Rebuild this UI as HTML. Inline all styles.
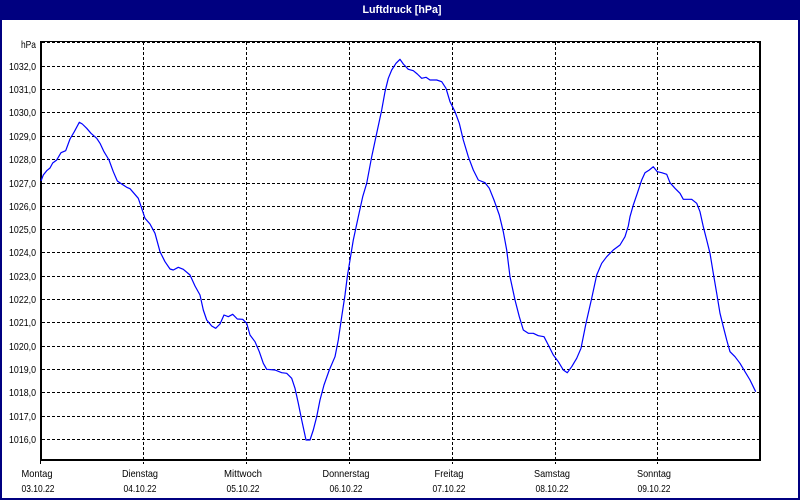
<!DOCTYPE html>
<html>
<head>
<meta charset="utf-8">
<style>
  html,body{margin:0;padding:0;background:#fff;}
  svg{display:block;}
  text{font-family:"Liberation Sans",sans-serif;font-size:10.5px;fill:#000;}
</style>
</head>
<body>
<svg width="800" height="500" viewBox="0 0 800 500" xmlns="http://www.w3.org/2000/svg">
  <!-- background & frame -->
  <rect x="0" y="0" width="800" height="500" fill="#ffffff"/>
  <rect x="0" y="0" width="800" height="20" fill="#000080"/>
  <rect x="0" y="0" width="2" height="500" fill="#000080"/>
  <rect x="798" y="0" width="2" height="500" fill="#000080"/>
  <rect x="0" y="498" width="800" height="2" fill="#000080"/>
  <text x="402" y="13" text-anchor="middle" style="font-weight:bold;fill:#fff;font-size:11px;" textLength="79" lengthAdjust="spacingAndGlyphs">Luftdruck [hPa]</text>

  <!-- horizontal dashed gridlines -->
  <g stroke="#000" stroke-width="1" stroke-dasharray="3,2" shape-rendering="crispEdges">
    <line x1="42" y1="42.5" x2="759" y2="42.5"/>
    <line x1="42" y1="66.5" x2="759" y2="66.5"/>
    <line x1="42" y1="89.5" x2="759" y2="89.5"/>
    <line x1="42" y1="112.5" x2="759" y2="112.5"/>
    <line x1="42" y1="136.5" x2="759" y2="136.5"/>
    <line x1="42" y1="159.5" x2="759" y2="159.5"/>
    <line x1="42" y1="183.5" x2="759" y2="183.5"/>
    <line x1="42" y1="206.5" x2="759" y2="206.5"/>
    <line x1="42" y1="229.5" x2="759" y2="229.5"/>
    <line x1="42" y1="252.5" x2="759" y2="252.5"/>
    <line x1="42" y1="276.5" x2="759" y2="276.5"/>
    <line x1="42" y1="299.5" x2="759" y2="299.5"/>
    <line x1="42" y1="322.5" x2="759" y2="322.5"/>
    <line x1="42" y1="346.5" x2="759" y2="346.5"/>
    <line x1="42" y1="369.5" x2="759" y2="369.5"/>
    <line x1="42" y1="392.5" x2="759" y2="392.5"/>
    <line x1="42" y1="416.5" x2="759" y2="416.5"/>
    <line x1="42" y1="439.5" x2="759" y2="439.5"/>
  </g>
  <!-- vertical dashed gridlines (extend below axis as ticks) -->
  <g stroke="#000" stroke-width="1" stroke-dasharray="3,2" shape-rendering="crispEdges">
    <line x1="143.5" y1="42" x2="143.5" y2="464"/>
    <line x1="246.5" y1="42" x2="246.5" y2="464"/>
    <line x1="349.5" y1="42" x2="349.5" y2="464"/>
    <line x1="452.5" y1="42" x2="452.5" y2="464"/>
    <line x1="555.5" y1="42" x2="555.5" y2="464"/>
    <line x1="657.5" y1="42" x2="657.5" y2="464"/>
  </g>

  <!-- axes -->
  <g stroke="#000" shape-rendering="crispEdges" fill="none">
    <line x1="40" y1="41.5" x2="761" y2="41.5" stroke-width="1"/>
    <line x1="41" y1="41" x2="41" y2="461" stroke-width="2"/>
    <line x1="40" y1="460" x2="761" y2="460" stroke-width="2"/>
    <line x1="760" y1="41" x2="760" y2="461" stroke-width="2"/>
    <line x1="40.5" y1="460" x2="40.5" y2="464" stroke-width="1"/>
  </g>

  <!-- y labels -->
  <g text-anchor="end" lengthAdjust="spacingAndGlyphs">
    <text x="36" y="48" textLength="15" lengthAdjust="spacingAndGlyphs">hPa</text>
    <text x="36" y="70" textLength="27" lengthAdjust="spacingAndGlyphs">1032,0</text>
    <text x="36" y="93" textLength="27" lengthAdjust="spacingAndGlyphs">1031,0</text>
    <text x="36" y="116" textLength="27" lengthAdjust="spacingAndGlyphs">1030,0</text>
    <text x="36" y="140" textLength="27" lengthAdjust="spacingAndGlyphs">1029,0</text>
    <text x="36" y="163" textLength="27" lengthAdjust="spacingAndGlyphs">1028,0</text>
    <text x="36" y="187" textLength="27" lengthAdjust="spacingAndGlyphs">1027,0</text>
    <text x="36" y="210" textLength="27" lengthAdjust="spacingAndGlyphs">1026,0</text>
    <text x="36" y="233" textLength="27" lengthAdjust="spacingAndGlyphs">1025,0</text>
    <text x="36" y="256" textLength="27" lengthAdjust="spacingAndGlyphs">1024,0</text>
    <text x="36" y="280" textLength="27" lengthAdjust="spacingAndGlyphs">1023,0</text>
    <text x="36" y="303" textLength="27" lengthAdjust="spacingAndGlyphs">1022,0</text>
    <text x="36" y="326" textLength="27" lengthAdjust="spacingAndGlyphs">1021,0</text>
    <text x="36" y="350" textLength="27" lengthAdjust="spacingAndGlyphs">1020,0</text>
    <text x="36" y="373" textLength="27" lengthAdjust="spacingAndGlyphs">1019,0</text>
    <text x="36" y="396" textLength="27" lengthAdjust="spacingAndGlyphs">1018,0</text>
    <text x="36" y="420" textLength="27" lengthAdjust="spacingAndGlyphs">1017,0</text>
    <text x="36" y="443" textLength="27" lengthAdjust="spacingAndGlyphs">1016,0</text>
  </g>

  <!-- x labels -->
  <g text-anchor="middle">
    <text x="37" y="477" textLength="31" lengthAdjust="spacingAndGlyphs">Montag</text>
    <text x="38" y="492" textLength="33" lengthAdjust="spacingAndGlyphs">03.10.22</text>
    <text x="140" y="477" textLength="36" lengthAdjust="spacingAndGlyphs">Dienstag</text>
    <text x="140" y="492" textLength="33" lengthAdjust="spacingAndGlyphs">04.10.22</text>
    <text x="243" y="477" textLength="38" lengthAdjust="spacingAndGlyphs">Mittwoch</text>
    <text x="243" y="492" textLength="33" lengthAdjust="spacingAndGlyphs">05.10.22</text>
    <text x="346" y="477" textLength="47" lengthAdjust="spacingAndGlyphs">Donnerstag</text>
    <text x="346" y="492" textLength="33" lengthAdjust="spacingAndGlyphs">06.10.22</text>
    <text x="449" y="477" textLength="29" lengthAdjust="spacingAndGlyphs">Freitag</text>
    <text x="449" y="492" textLength="33" lengthAdjust="spacingAndGlyphs">07.10.22</text>
    <text x="552" y="477" textLength="36" lengthAdjust="spacingAndGlyphs">Samstag</text>
    <text x="552" y="492" textLength="33" lengthAdjust="spacingAndGlyphs">08.10.22</text>
    <text x="654" y="477" textLength="34" lengthAdjust="spacingAndGlyphs">Sonntag</text>
    <text x="654" y="492" textLength="33" lengthAdjust="spacingAndGlyphs">09.10.22</text>
  </g>

  <!-- data line -->
  <polyline fill="none" stroke="#0000ff" stroke-width="1.2" stroke-linejoin="round" points="
41,181 43.3,175 46.7,170.7 50,168 52.7,163 56.7,160 61,152.7 65.7,150.7 70,139 74.3,131.7 79.3,122.3 82.3,124 86.7,128.3 91,133.3 96.7,138.3 100,143.3 104,151.7 109,160 113.3,171.7 117.3,181 121.7,184 126.7,187.3 130,188.7 134,193.3 138.3,198.3 141.7,208.3 145,218.3 150,224 155,233.3 160,251.7 165,261.7 170,269 173.3,270 178.3,267.3 183.3,269.3 190,275 195,286 200,295 203.3,310 206.7,320 211.7,326 215.7,328.3 220,324 224,315 228.3,316.7 232.7,314.3 237.3,319 242.7,319.3 246.7,323.3 250,335 255,341.7 259.3,351.7 263.3,363.3 266.7,369.3 275,370 281.7,372.7 286.7,373.3 291.7,378.3 295,388.3 298.3,403.3 301.7,420 306,440 310,440 313.3,430 316.7,416.7 320,400 324,385 329.3,370 335,356.7 338.3,340 341.7,316.7 345,295 347.3,276.7 350,260 353.3,240 358.3,216.7 362.7,196.7 366.7,183.3 371.7,156.7 376.7,133.3 381.7,110 385,91.7 388.3,78.3 391.7,70 396,63.3 400,59.3 403.3,64 408.3,69.3 413.3,70.7 417.3,74 421.7,78.3 426,77.3 430,80 436.7,80 441.7,81.7 446,88.3 450,101.7 455,111.7 459.3,123.3 463.3,140 468.3,156.7 473.3,170 478.3,180 485,182.7 489.3,188.3 494,200 499.3,215 503.3,231.7 506.7,250 510,276.7 515,300 519.3,316.7 523.3,330 528.3,333.3 533.3,333.3 538.3,335.7 544,336.7 548.3,345 553.3,355 558.3,361.7 563.3,370 567.3,372.7 571.7,366.7 576.7,358.3 581,348.3 586,323.3 591.7,298.3 596.7,275 601.7,263.3 606.7,256.7 613.3,250 620,245 625,236.7 628.3,226 630,216.7 633.3,205 637.3,193.3 641.7,180 645,172.7 649.3,170 653.3,166.7 657.3,171.7 661.7,172.7 666.7,174.3 670,182.7 675,188.3 680,193.3 683.3,199.3 691.7,199.3 696.7,203.3 700,211.7 703.3,226.7 706.7,240 710,253.3 713.3,273.3 716.7,293.3 720,313.3 723.3,326.7 726.7,340 730,351.7 735,356.7 740,363.3 745,371.7 750,380 755.7,391.7"/>
</svg>
</body>
</html>
